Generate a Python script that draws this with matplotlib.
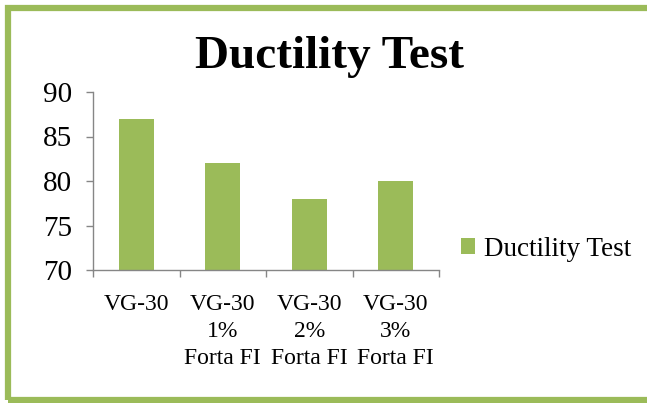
import matplotlib
matplotlib.use('Agg')
import matplotlib.pyplot as plt
from matplotlib.patches import Rectangle

# 資料
categories = ['VG-30', 'VG-30\n1%\nForta FI', 'VG-30\n2%\nForta FI', 'VG-30\n3%\nForta FI']
values = [87, 82, 78, 80]
series_name = 'Ductility Test'
yticks = [70, 75, 80, 85, 90]

green = '#9BBB59'
axis_grey = '#868686'

plt.rcParams['font.family'] = ['Liberation Serif', 'DejaVu Serif']

fig = plt.figure(figsize=(6.47, 4.03), dpi=100)

# 外框
fig.patches.append(Rectangle((7.5 / 647, 1 - 400 / 403), 1.2, 392 / 403,
                             transform=fig.transFigure, fill=False,
                             edgecolor=green, linewidth=4.5, clip_on=False))

ax = fig.add_axes([93 / 647, 1 - 270 / 403, 346 / 647, 178 / 403])
x = list(range(len(categories)))
bars = ax.bar(x, values, width=0.4, color=green, label=series_name, zorder=2)

ax.set_xlim(-0.5, len(categories) - 0.5)
ax.set_ylim(70, 90)
ax.set_yticks(yticks)
ax.tick_params(axis='y', labelsize=21, length=5, width=1, color=axis_grey, pad=10)

# x 軸刻度在類別之間
ax.set_xticks([i - 0.5 for i in range(len(categories) + 1)])
ax.set_xticklabels([])
ax.tick_params(axis='x', length=5, width=1, color=axis_grey)
for i, lab in enumerate(categories):
    ax.text(i, 67.3, lab, ha='center', va='top', fontsize=17, linespacing=1.38)

for s in ['top', 'right']:
    ax.spines[s].set_visible(False)
for s in ['left', 'bottom']:
    ax.spines[s].set_color(axis_grey)
    ax.spines[s].set_linewidth(1)

fig.text(330 / 647, 1 - 57 / 403, 'Ductility Test', ha='center', va='center',
         fontsize=34, fontweight='bold')

fig.legend(handles=[bars], labels=[series_name], loc='center left',
           bbox_to_anchor=(437 / 647, 1 - 249 / 403), frameon=False,
           fontsize=19.5, handlelength=0.52, handleheight=0.52, handletextpad=0.3)

fig.savefig('out.png', dpi=100)
